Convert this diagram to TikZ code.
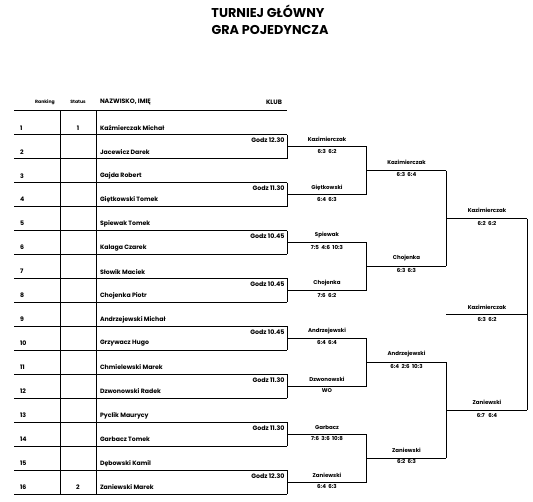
\documentclass[tikz,border=0pt]{standalone}
\usepackage{fontspec}
\setmainfont{Poppins}
\usetikzlibrary{calc}
\begin{document}
\begin{tikzpicture}[x=1pt,y=-1pt,line width=0.8pt,
  base/.style={inner sep=0pt,outer sep=0pt},
  title/.style={base,font=\fontsize{12.8}{14}\selectfont\bfseries},
  hsmall/.style={base,font=\fontsize{4.6}{5}\selectfont\bfseries},
  hdr/.style={base,font=\fontsize{6.3}{7}\selectfont\bfseries},
  rowtxt/.style={base,font=\fontsize{6.2}{7}\selectfont\bfseries},
  godz/.style={base,font=\fontsize{6.3}{7}\selectfont\bfseries,anchor=east},
  win/.style={base,font=\fontsize{5.5}{7}\selectfont\bfseries},
  rule/.style={line width=0.8pt}]
\useasboundingbox (0,0) rectangle (533,501);

% title
\node[title] (t1) at (268,11.5) {TURNIEJ GŁÓWNY};
\node[title] (t2) at (270,29.5) {GRA POJEDYNCZA};

% header
\node[hsmall] (hrank) at (45,102) {Ranking};
\node[hsmall] (hstat) at (78,102) {Status};
\node[hdr,anchor=west] (hname) at (100,102) {NAZWISKO, IMIĘ};
\node[hdr,anchor=east] (hklub) at (282,102) {KLUB};

% table rules
\draw[rule] (14,110.7) -- (287,110.7);
\foreach \k in {1,...,16}{
  \pgfmathsetmacro\yy{110.7+23.96*\k}
  \draw[rule] (14,\yy) -- (287,\yy);
}
\draw[rule] (60,110.7) -- (60,494.06);
\draw[rule] (96.7,110.7) -- (96.7,494.06);

% rows
\foreach \r/\nm in {1/{Kaźmierczak Michał},2/{Jacewicz Darek},3/{Gajda Robert},4/{Giętkowski Tomek},
  5/{Spiewak Tomek},6/{Kalaga Czarek},7/{Słowik Maciek},8/{Chojenka Piotr},
  9/{Andrzejewski Michał},10/{Grzywacz Hugo},11/{Chmielewski Marek},12/{Dzwonowski Radek},
  13/{Pyclik Maurycy},14/{Garbacz Tomek},15/{Dębowski Kamil},16/{Zaniewski Marek}}{
  \pgfmathsetmacro\yy{110.7+23.96*\r-6.8}
  \node[rowtxt,anchor=west] (num\r) at (20,\yy) {\r};
  \node[rowtxt,anchor=west] (name\r) at (100,\yy) {\nm};
}
\node[rowtxt] (st1) at (78,127.86) {1};
\node[rowtxt] (st16) at (78,487.26) {2};

% first round: boxes, times, winners
\foreach \i/\t/\w/\s in {0/{12.30}/{Kazimierczak}/{6:3\ \ 6:2},
  1/{11.30}/{Giętkowski}/{6:4\ \ 6:3},
  2/{10.45}/{Spiewak}/{7:5\ \ 4:6\ \ 10:3},
  3/{10.45}/{Chojenka}/{7:6\ \ 6:2},
  4/{10.45}/{Andrzejewski}/{6:4\ \ 6:4},
  5/{11.30}/{Dzwonowski}/{WO},
  6/{11.30}/{Garbacz}/{7:6\ \ 3:6\ \ 10:8},
  7/{12.30}/{Zaniewski}/{6:4\ \ 6:3}}{
  \pgfmathsetmacro\ytop{110.7+23.96*(2*\i+1)}
  \pgfmathsetmacro\ybot{\ytop+23.96}
  \pgfmathsetmacro\ymid{\ytop+11.98}
  \draw[rule] (287,\ytop) -- (287,\ybot);
  \node[godz] (g\i) at (284.5,\ytop+5.6) {Godz \t};
  \coordinate (b\i) at (287,\ymid);
  \coordinate (e\i) at (366.7,\ymid);
  \draw[rule] (b\i) -- (e\i);
  \node[win] (wa\i) at (327,\ymid-7) {\w};
  \node[win] (sa\i) at (327,\ymid+4.6) {\s};
}

% second round
\foreach \j/\p/\q/\w/\s in {0/0/1/{Kazimierczak}/{6:3\ \ 6:4},
  1/2/3/{Chojenka}/{6:3\ \ 6:3},
  2/4/5/{Andrzejewski}/{6:4\ \ 2:6\ \ 10:3},
  3/6/7/{Zaniewski}/{6:2\ \ 6:3}}{
  \draw[rule] (e\p) -- (e\q);
  \coordinate (c\j) at ($(e\p)!0.5!(e\q)$);
  \coordinate (d\j) at ([xshift=79.3pt]c\j);
  \draw[rule] (c\j) -- (d\j);
  \node[win] (wb\j) at ([xshift=39.8pt,yshift=8pt]c\j) {\w};
  \node[win] (sb\j) at ([xshift=39.8pt,yshift=-3.8pt]c\j) {\s};
}

% semifinals
\draw[rule] (d0) -- (d1);
\draw[rule] (d2) -- (d3);
\coordinate (h0) at ($(d0)!0.5!(d1)$);
\coordinate (h1) at ($(d2)!0.5!(d3)$);
\coordinate (k0) at ([xshift=81.3pt]h0);
\coordinate (k1) at ([xshift=81.3pt]h1);
\draw[rule] (h0) -- (k0);
\draw[rule] (h1) -- (k1);
\node[win] (wc0) at ([xshift=41pt,yshift=8pt]h0) {Kazimierczak};
\node[win] (sc0) at ([xshift=41pt,yshift=-4.8pt]h0) {6:2\ \ 6:2};
\node[win] (wc1) at ([xshift=41pt,yshift=8pt]h1) {Zaniewski};
\node[win] (sc1) at ([xshift=41pt,yshift=-4.8pt]h1) {6:7\ \ \ 6:4};

% final
\draw[rule] (k0) -- (k1);
\coordinate (fr) at ($(k0)!0.5!(k1)$);
\coordinate (fl) at ([xshift=-81.3pt]fr);
\draw[rule] (fl) -- (fr);
\node[win] (wf) at ([xshift=41pt,yshift=7.5pt]fl) {Kazimierczak};
\node[win] (sf) at ([xshift=41pt,yshift=-4.8pt]fl) {6:3\ \ 6:2};
\end{tikzpicture}
\end{document}
